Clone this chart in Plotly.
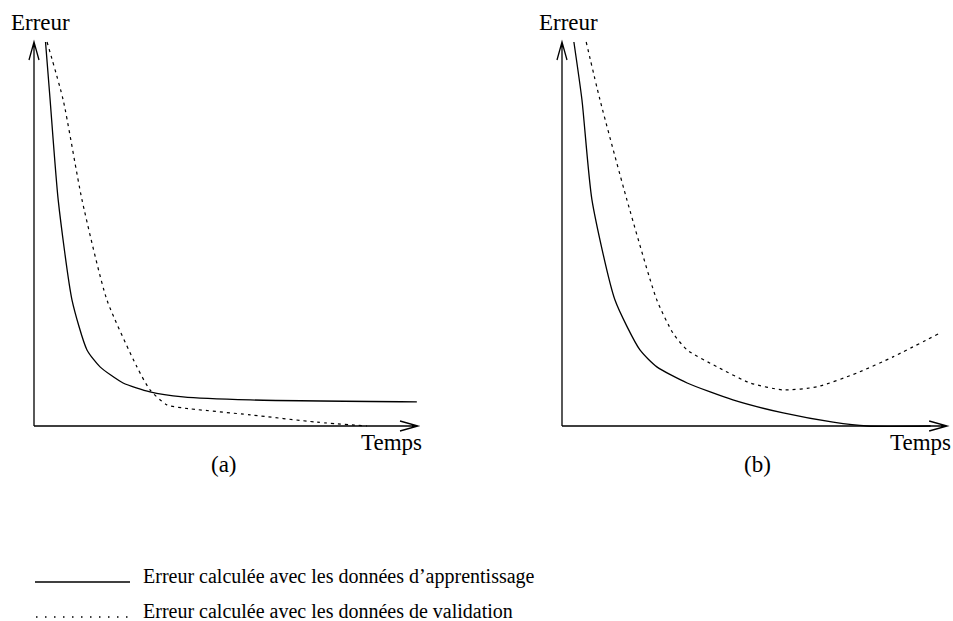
import plotly.graph_objects as go

# ---- data (Temps, Erreur), axes span 0..10 ----
a_train_t = [0.30, 0.42, 0.63, 0.99, 1.38, 1.72, 2.32, 3.02, 3.88, 5.63, 9.97]
a_train_e = [10.0, 8.49, 5.89, 3.28, 1.98, 1.54, 1.12, 0.89, 0.76, 0.68, 0.63]
a_valid_t = [0.34, 0.76, 1.25, 1.90, 2.68, 3.02, 3.46, 3.88, 5.63, 7.37, 8.67]
a_valid_e = [10.0, 8.49, 5.89, 3.28, 1.54, 0.94, 0.55, 0.47, 0.29, 0.10, 0.0]

b_train_t = [0.31, 0.52, 0.78, 1.38, 2.03, 2.47, 3.26, 4.45, 5.76, 7.06, 7.94, 9.6]
b_train_e = [10.0, 8.49, 5.89, 3.28, 1.98, 1.54, 1.12, 0.68, 0.34, 0.10, 0.0, 0.0]
b_valid_t = [0.63, 0.99, 1.69, 2.47, 2.89, 3.26, 4.04, 4.90, 5.76, 6.64, 7.68, 8.62, 9.84]
b_valid_e = [10.0, 8.49, 5.89, 3.28, 2.42, 1.98, 1.54, 1.12, 0.94, 1.02, 1.38, 1.80, 2.42]

axis_label_y = "Erreur"
axis_label_x = "Temps"
panel_labels = ["(a)", "(b)"]
legend_labels = ["Erreur calculée avec les données d’apprentissage",
                 "Erreur calculée avec les données de validation"]

W, H = 953, 621
FONT = "Liberation Serif, Times New Roman, serif"
SCALE = 38.4  # px per unit
ORIG_Y = 426
ORIG_XA, ORIG_XB = 34, 562

fig = go.Figure()
line_solid = dict(color="black", width=1.3, shape="spline", smoothing=0.6)
line_dot = dict(color="black", width=1.2, shape="spline", smoothing=0.6, dash="3px,4px")

fig.add_trace(go.Scatter(x=a_train_t, y=a_train_e, mode="lines", line=line_solid,
                         xaxis="x", yaxis="y", showlegend=False, hoverinfo="skip"))
fig.add_trace(go.Scatter(x=a_valid_t, y=a_valid_e, mode="lines", line=line_dot,
                         xaxis="x", yaxis="y", showlegend=False, hoverinfo="skip"))
fig.add_trace(go.Scatter(x=b_train_t, y=b_train_e, mode="lines", line=line_solid,
                         xaxis="x2", yaxis="y", showlegend=False, hoverinfo="skip"))
fig.add_trace(go.Scatter(x=b_valid_t, y=b_valid_e, mode="lines", line=line_dot,
                         xaxis="x2", yaxis="y", showlegend=False, hoverinfo="skip"))

half = W / 2
ra0 = -ORIG_XA / SCALE
rb0 = -(ORIG_XB - half) / SCALE
y0 = -(H - ORIG_Y) / SCALE
y1 = ORIG_Y / SCALE

hidden = dict(visible=False, showgrid=False, zeroline=False, fixedrange=True)
fig.update_layout(
    width=W, height=H,
    margin=dict(l=0, r=0, t=0, b=0),
    paper_bgcolor="white", plot_bgcolor="white",
    xaxis=dict(domain=[0, 0.5], range=[ra0, ra0 + half / SCALE], **hidden),
    xaxis2=dict(domain=[0.5, 1], range=[rb0, rb0 + half / SCALE], anchor="y", **hidden),
    yaxis=dict(domain=[0, 1], range=[y0, y1], **hidden),
    showlegend=False,
)

# axes with open arrowheads
ah_len = 18 / SCALE
ah_w = 5 / SCALE
shapes = []
for xr, xtip in (("x", 10.0), ("x2", 10.03)):
    ax_line = dict(color="black", width=1.3)
    shapes.append(dict(type="path", xref=xr, yref="y",
                       path=f"M 0,0 L 0,10 M {-ah_w},{10-ah_len} L 0,10 L {ah_w},{10-ah_len}",
                       line=ax_line))
    shapes.append(dict(type="path", xref=xr, yref="y",
                       path=f"M 0,0 L {xtip},0 M {xtip-ah_len},{ah_w} L {xtip},0 L {xtip-ah_len},{-ah_w}",
                       line=ax_line))

def py(px):
    return 1 - px / H

def pxx(px):
    return px / W

# legend samples
shapes.append(dict(type="line", xref="paper", yref="paper",
                   x0=pxx(35), x1=pxx(130), y0=py(582), y1=py(582),
                   line=dict(color="black", width=1.3)))
shapes.append(dict(type="line", xref="paper", yref="paper",
                   x0=pxx(36), x1=pxx(130), y0=py(617), y1=py(617),
                   line=dict(color="black", width=1.5, dash="1.5px,7.5px")))
fig.update_layout(shapes=shapes)

ann = []
def txt(s, x, y, size, xanchor="center"):
    ann.append(dict(text=s, x=pxx(x), y=py(y), xref="paper", yref="paper",
                    xanchor=xanchor, yanchor="middle", showarrow=False,
                    font=dict(family=FONT, size=size, color="black")))

txt(axis_label_y, 40, 22, 23)
txt(axis_label_y, 568, 22, 23)
txt(axis_label_x, 391, 442, 23)
txt(axis_label_x, 920, 442, 23)
txt(panel_labels[0], 224, 464, 23)
txt(panel_labels[1], 757, 464, 23)
txt(legend_labels[0], 141, 576, 20, "left")
txt(legend_labels[1], 141, 611, 20, "left")
fig.update_layout(annotations=ann)

fig.write_html("out.html", config={"displayModeBar": False},
               post_script="document.body.style.margin='0';")
